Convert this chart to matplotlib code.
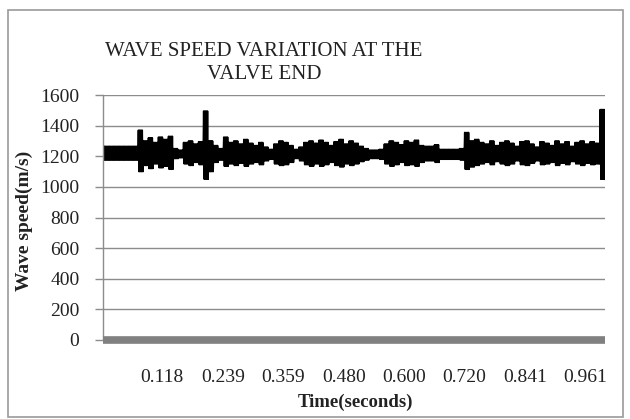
import matplotlib.pyplot as plt
import matplotlib.patches as patches
import numpy as np

# upper / lower swing of the wave speed record, one pair every 0.01 s (m/s)
speed_hi = [1265, 1265, 1265, 1265, 1265, 1265, 1265, 1370, 1300, 1320,
            1290, 1325, 1310, 1330, 1250, 1240, 1290, 1300, 1280, 1295,
            1495, 1300, 1270, 1250, 1325, 1290, 1300, 1280, 1310, 1285,
            1270, 1290, 1260, 1245, 1280, 1300, 1290, 1270, 1245, 1260,
            1290, 1300, 1285, 1305, 1290, 1270, 1295, 1310, 1280, 1300,
            1285, 1265, 1250, 1240, 1240, 1245, 1280, 1300, 1290, 1275,
            1300, 1290, 1305, 1270, 1265, 1265, 1275, 1245, 1245, 1245,
            1245, 1250, 1355, 1300, 1310, 1290, 1280, 1300, 1270, 1290,
            1300, 1285, 1265, 1295, 1300, 1280, 1260, 1295, 1285, 1270,
            1300, 1280, 1295, 1265, 1290, 1300, 1280, 1295, 1285, 1505]
speed_lo = [1175, 1175, 1175, 1175, 1175, 1175, 1175, 1100, 1140, 1120,
            1150, 1125, 1135, 1115, 1185, 1190, 1150, 1140, 1160, 1145,
            1050, 1100, 1160, 1175, 1135, 1150, 1140, 1155, 1135, 1150,
            1160, 1145, 1170, 1180, 1150, 1140, 1145, 1160, 1185, 1170,
            1145, 1135, 1150, 1135, 1145, 1160, 1140, 1130, 1150, 1140,
            1150, 1165, 1175, 1185, 1185, 1180, 1150, 1135, 1145, 1160,
            1140, 1145, 1135, 1160, 1170, 1170, 1160, 1180, 1180, 1180,
            1180, 1175, 1115, 1130, 1140, 1150, 1160, 1145, 1165, 1150,
            1140, 1150, 1170, 1145, 1140, 1155, 1170, 1145, 1150, 1160,
            1140, 1155, 1145, 1165, 1150, 1140, 1155, 1145, 1150, 1050]
tick_times = [0.118, 0.239, 0.359, 0.480, 0.600, 0.720, 0.841, 0.961]
y_ticks = [0, 200, 400, 600, 800, 1000, 1200, 1400, 1600]

# each 0.01 s window holds several full swings between its two extremes
swings = 4
dt = 0.01 / (2 * swings)
speed = np.ravel(np.repeat(np.column_stack([speed_hi, speed_lo]), swings, axis=0))
time = (np.arange(len(speed)) + 0.5) * dt

plt.rcParams['font.family'] = ['Liberation Serif', 'DejaVu Serif']

fig = plt.figure(figsize=(6.3, 4.19), dpi=100)
ax = fig.add_axes([103/630, 1 - 340/419, 502/630, 245/419])

ax.plot(time, speed, color='black', lw=1.2)
ax.plot([0, 1.0], [0, 0], color='#808080', lw=5.5, solid_capstyle='butt',
        clip_on=False, zorder=3)

ax.set_xlim(0, 1.0)
ax.set_ylim(0, 1600)
ax.set_yticks(y_ticks)
ax.set_xticks(tick_times)
ax.set_xticklabels(['%.3f' % v for v in tick_times])
ax.grid(axis='y', color='#8c8c8c', lw=1.0)
ax.set_axisbelow(True)

for s in ['top', 'right', 'bottom']:
    ax.spines[s].set_visible(False)
ax.spines['left'].set_color('#8c8c8c')
ax.spines['left'].set_linewidth(1.0)

ax.tick_params(axis='y', length=6, width=1.0, color='#8c8c8c', pad=11,
               labelsize=14, labelcolor='#222222')
ax.tick_params(axis='x', length=0, pad=21, labelsize=14, labelcolor='#222222')

fig.text(264/630, 1 - 63/419, 'WAVE SPEED VARIATION AT THE\nVALVE END',
         ha='center', va='center', fontsize=15, color='#222222',
         linespacing=1.3)
fig.text(24/630, 1 - 221/419, 'Wave speed(m/s)', rotation=90, ha='center',
         va='center', fontsize=14, fontweight='bold', color='#222222')
fig.text(356/630, 1 - 402/419, 'Time(seconds)', ha='center', va='center',
         fontsize=13.5, fontweight='bold', color='#222222')

# chart area border
fig.patches.append(patches.Rectangle((8/630, 1 - 417/419), 615/630, 407/419,
                                     transform=fig.transFigure, fill=False,
                                     edgecolor='#9a9a9a', lw=1.2))

fig.savefig('out.png', dpi=100)
